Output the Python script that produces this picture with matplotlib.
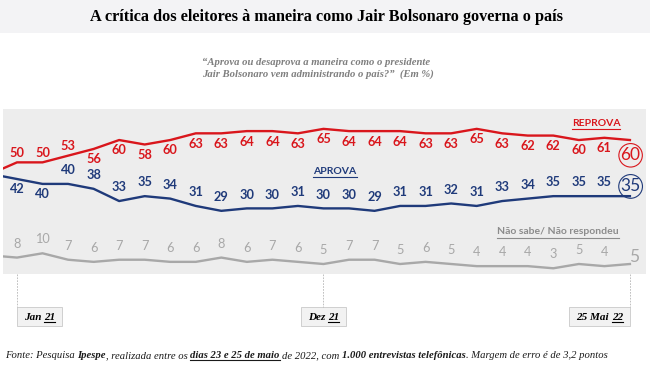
import numpy as np
import matplotlib
matplotlib.use("Agg")
import matplotlib.pyplot as plt
import matplotlib.transforms as mtransforms
from matplotlib.lines import Line2D
from matplotlib.patches import Rectangle

# ---- data ----
# index -1 is the unlabeled start of the lines at the left edge of the plot
idx = np.arange(-1, 25)
reprova = [45, 50, 50, 53, 56, 60, 58, 60, 63, 63, 64, 64, 63, 65, 64, 64, 64,
           63, 63, 65, 63, 62, 62, 60, 61, 60]
aprova = [44, 42, 40, 40, 38, 33, 35, 34, 31, 29, 30, 30, 31, 30, 30, 29, 31,
          31, 32, 31, 33, 34, 35, 35, 35, 35]
nsnr = [9, 8, 10, 7, 6, 7, 7, 6, 6, 8, 6, 7, 6, 5, 7, 7, 5, 6, 5, 4, 4, 4, 3,
        5, 4, 5]
tick_idx = [0, 12, 24]
tick_main = ["Jan", "Dez", "25 Mai"]
tick_year = ["21", "21", "22"]

title = "A crítica dos eleitores à maneira como Jair Bolsonaro governa o país"
subtitle = ["\u201cAprova ou desaprova a maneira como o presidente",
            "Jair Bolsonaro vem administrando o país?\u201d  (Em %)"]
footer = [("Fonte: Pesquisa ", False, False), ("Ipespe", True, False),
          (", realizada entre os ", False, False),
          ("dias 23 e 25 de maio", True, True), (" de 2022, com ", False, False),
          ("1.000 entrevistas telefônicas", True, False),
          (". Margem de erro é de 3,2 pontos", False, False)]

RED = "#d9161c"
NAVY = "#1f3a7a"
GREY = "#a8a8a8"
SERIF = "Liberation Serif"
SANS = "Lato"

W, H = 650, 370
fig = plt.figure(figsize=(W / 100, H / 100), dpi=100)
fig.patch.set_facecolor("white")
ident = mtransforms.IdentityTransform()
renderer = fig.canvas.get_renderer()


def px(x, y_top):
    # pixel coords from the top-left -> display coords
    return x, H - y_top


def text_w(s, **kw):
    t = fig.text(0, 0, "|" + s + "|", **kw)
    t2 = fig.text(0, 0, "||", **kw)
    w = t.get_window_extent(renderer).width - t2.get_window_extent(renderer).width
    t.remove()
    t2.remove()
    return w


def draw_runs(x, y_top, runs, ha="left", size=8, color="black", italic=True):
    # runs: (text, bold, underline); y_top is the baseline measured from the top
    pieces = []
    for s, bold, ul in runs:
        kw = dict(family=SERIF, size=size, style="italic" if italic else "normal",
                  weight="bold" if bold else "normal", color=color)
        spw = text_w(" ", **kw)
        core = s.strip(" ")
        lead = len(s) - len(s.lstrip(" "))
        trail = len(s) - len(s.rstrip(" "))
        pieces.append((core, kw, ul, lead * spw, text_w(core, **kw), trail * spw))
    total = sum(a + b + c for _, _, _, a, b, c in pieces)
    cur = {"left": x, "center": x - total / 2, "right": x - total}[ha]
    xd, yd = px(0, y_top)
    for core, kw, ul, lead, w, trail in pieces:
        cur += lead
        fig.text(cur, yd, core, transform=ident, ha="left", va="baseline", **kw)
        if ul:
            fig.add_artist(Line2D([cur, cur + w], [yd - 2, yd - 2], transform=ident,
                                  color=kw["color"], lw=0.8))
        cur += w + trail
    return total


# ---- title band ----
fig.add_artist(Rectangle((0, H - 33), W, 33, transform=ident,
                         facecolor="#f3f3f5", edgecolor="none"))
fig.text(W / 2 + 1, H - 17, title, transform=ident, ha="center", va="center",
         family=SERIF, weight="bold", size=11.7, color="black")
for i, line in enumerate(subtitle):
    fig.text(202, H - (62 + 12 * i), line, transform=ident, ha="left", va="center",
             family=SERIF, weight="bold", style="italic", size=7.7, color="#7f7f7f")

# ---- plot area: three overlaid axes, one per series ----
ax = fig.add_axes([3 / W, (H - 274) / H, 643 / W, 165 / H])
ax.set_facecolor("#ededed")
ax.set_xlim(-0.548, 24.63)
ax.set_ylim(0, 73.9)
ax2 = ax.twinx()
ax2.set_ylim(3.2, 70.6)
ax3 = ax.twinx()
ax3.set_ylim(0.33, 77.4)
for a in (ax, ax2, ax3):
    a.set_xticks([])
    a.set_yticks([])
    for s in a.spines.values():
        s.set_visible(False)

ax.plot(idx, reprova, color=RED, lw=1.7, solid_joinstyle="round")
ax2.plot(idx, aprova, color=NAVY, lw=1.7, solid_joinstyle="round")
ax3.plot(idx, nsnr, color=GREY, lw=1.7, solid_joinstyle="round")

lab = dict(family=SANS, weight="bold", size=9.2, ha="center", va="center",
           textcoords="offset points")
for k in range(1, len(idx) - 1):
    i = idx[k]
    dy = 7 if i < 3 else -7.5
    ax.annotate(str(reprova[k]), (i, reprova[k]), xytext=(0, dy), color=RED, **lab)
    dy = -7 if i < 2 else 10
    ax2.annotate(str(aprova[k]), (i, aprova[k]), xytext=(0, dy), color=NAVY, **lab)
    ax3.annotate(str(nsnr[k]), (i, nsnr[k]), xytext=(0, 10), color=GREY,
                 **{**lab, "weight": "normal"})

# last values, circled
big = dict(family=SANS, size=12.5, ha="center", va="center", textcoords="offset points")
ax.annotate(str(reprova[-1]), (idx[-1], reprova[-1]), xytext=(0.5, -11), color=RED,
            bbox=dict(boxstyle="circle,pad=0.1", fc="none", ec=RED, lw=0.8), **big)
ax2.annotate(str(aprova[-1]), (idx[-1], aprova[-1]), xytext=(0.5, 7), color=NAVY,
             bbox=dict(boxstyle="circle,pad=0.1", fc="none", ec=NAVY, lw=0.8), **big)
ax3.annotate(str(nsnr[-1]), (idx[-1], nsnr[-1]), xytext=(3, 5), color=GREY, **big)

# series names
ax.text(593 / 643, 1 - (123 - 109) / 165, "REPROVA", transform=ax.transAxes,
        ha="center", va="center", family=SANS, weight="bold", size=7.5, color=RED)
ax.text((335 - 3) / 643, 1 - (171 - 109) / 165, "APROVA", transform=ax.transAxes,
        ha="center", va="center", family=SANS, weight="bold", size=7.5, color=NAVY)
ax.text((558 - 3) / 643, 1 - (232 - 109) / 165, "Não sabe/ Não respondeu",
        transform=ax.transAxes, ha="center", va="center", family=SANS,
        weight="bold", size=7.5, color="#8c8c8c")
fig.canvas.draw()
for t, y, c in [(ax.texts[-3], 129, RED), (ax.texts[-2], 177, NAVY),
                (ax.texts[-1], 238, "#8c8c8c")]:
    bb = t.get_window_extent(renderer)
    fig.add_artist(Line2D([bb.x0, bb.x1], [H - y, H - y], transform=ident,
                          color=c, lw=0.8))

# ---- date axis below the plot ----
for j, i in enumerate(tick_idx):
    xd = ax.transData.transform((i, 0))[0]
    fig.add_artist(Line2D([xd, xd], [H - 274, H - 307], transform=ident,
                          color="#b5b5b5", lw=0.6, ls=(0, (2, 1.5))))
    kw = dict(family=SERIF, size=8, style="italic", weight="bold")
    wm = text_w(tick_main[j] + " ", **kw)
    wy = text_w(tick_year[j], **kw)
    bw = wm + wy + 14
    x0 = [xd, xd - bw / 2, xd - bw][j]
    fig.add_artist(Rectangle((x0, H - 326), bw, 19, transform=ident,
                             facecolor="#f2f2f2", edgecolor="#c9c9c9", lw=0.6))
    draw_runs(x0 + 7, 320, [(tick_main[j] + " ", True, False),
                            (tick_year[j], True, True)], size=8)

# ---- footer ----
draw_runs(5, 358, footer, size=7.7, color="#1a1a1a")

fig.savefig("out.png", dpi=100)
